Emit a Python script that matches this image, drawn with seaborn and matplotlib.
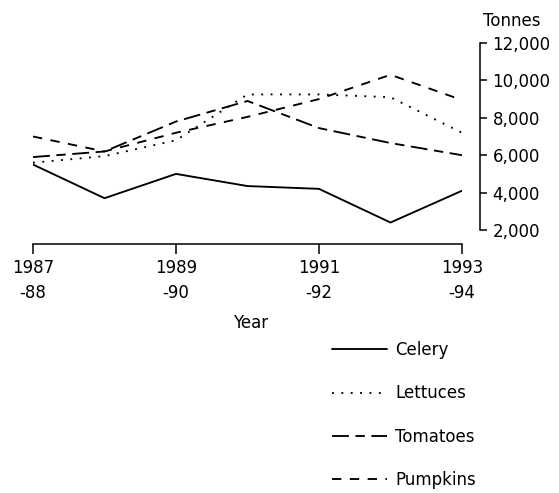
import matplotlib
matplotlib.use("Agg")
import matplotlib.pyplot as plt
import pandas as pd
import seaborn as sns

# Production by season (tonnes)
years = ["1987-88", "1988-89", "1989-90", "1990-91", "1991-92", "1992-93", "1993-94"]
celery = [5500, 3700, 5000, 4350, 4200, 2400, 4100]
lettuces = [5600, 5950, 6800, 9250, 9250, 9100, 7200]
tomatoes = [5900, 6200, 7800, 8900, 7450, 6650, 6000]
pumpkins = [7000, 6200, 7200, 8050, 9000, 10300, 8950]

crops = ["Celery", "Lettuces", "Tomatoes", "Pumpkins"]
xtick_labels = ["1987\n-88", "1989\n-90", "1991\n-92", "1993\n-94"]
yticks = [2000, 4000, 6000, 8000, 10000, 12000]

df = pd.DataFrame({"Year": years, "Celery": celery, "Lettuces": lettuces,
                   "Tomatoes": tomatoes, "Pumpkins": pumpkins})
df["pos"] = range(len(years))
long_df = df.melt(id_vars=["Year", "pos"], value_vars=crops,
                  var_name="Crop", value_name="Tonnes")

sns.set_theme(style="white", rc={"axes.edgecolor": "black", "text.color": "black",
                                 "xtick.color": "black", "ytick.color": "black"})
plt.rcParams["font.family"] = ["DejaVu Sans"]
plt.rcParams["font.size"] = 12

fig = plt.figure(figsize=(5.59, 4.93), dpi=100)
W, H = 559, 493
ax = fig.add_axes([33 / W, 1 - 230 / H, (462 - 33) / W, (230 - 43) / H])

# line style per crop (solid, dotted, long dash-short dash, dashed)
dashes = {
    "Celery": "",
    "Lettuces": (1, 4),
    "Tomatoes": (9, 3.5, 5, 3.5),
    "Pumpkins": (5, 4.5),
}
sns.lineplot(data=long_df, x="pos", y="Tonnes", style="Crop", style_order=crops,
             dashes=dashes, color="black", linewidth=1.35, ax=ax)

ax.set_xlim(0, 6)
ax.set_ylim(2000, 12000)
sns.despine(ax=ax, left=True, right=False, top=True, bottom=False,
            offset={"right": 13, "bottom": 10})
for side in ["right", "bottom"]:
    ax.spines[side].set_linewidth(1.1)
    ax.spines[side].set_color("black")

ax.yaxis.set_ticks_position("right")
ax.set_yticks(yticks)
ax.set_yticklabels([f"{v:,}" for v in yticks], fontsize=12)
ax.tick_params(axis="y", direction="out", length=5, width=1.1, pad=4,
               right=True, left=False, labelright=True, labelleft=False)

ax.set_xticks([0, 2, 4, 6])
ax.set_xticklabels(xtick_labels, fontsize=12, linespacing=1.5)
ax.tick_params(axis="x", direction="out", length=7, width=1.1, pad=4, bottom=True)

ax.set_xlabel("")
ax.set_ylabel("")
fig.text(251 / W, 1 - 323 / H, "Year", ha="center", va="center", fontsize=12)
fig.text(483 / W, 1 - 21 / H, "Tonnes", ha="left", va="center", fontsize=12)

handles, labels = ax.get_legend_handles_labels()
ax.legend(handles, labels, loc="upper left", bbox_to_anchor=(332 / W, 1 - 341 / H),
          bbox_transform=fig.transFigure, frameon=False, fontsize=12,
          handlelength=3.3, handletextpad=0.5, labelspacing=1.52,
          borderpad=0, borderaxespad=0)

fig.savefig("out.png", dpi=100, facecolor="white")
